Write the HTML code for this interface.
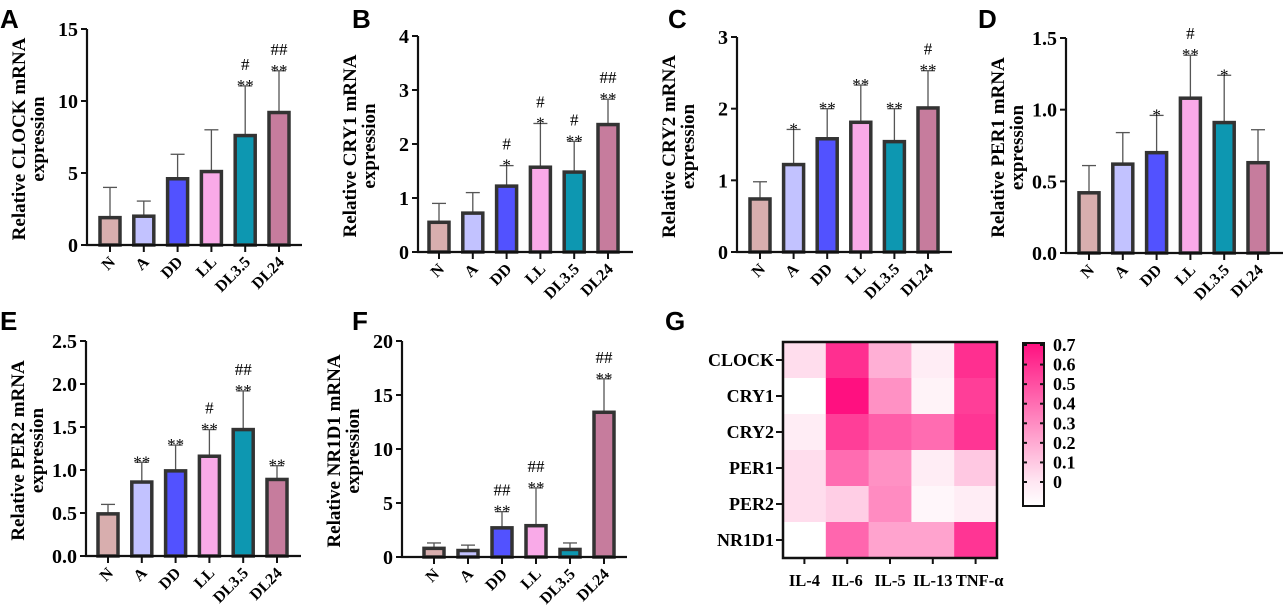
<!DOCTYPE html>
<html><head><meta charset="utf-8">
<style>
body{margin:0;background:#fff;}
svg{display:block;font-family:"Liberation Serif",serif;}
.pl{font-family:"Liberation Sans",sans-serif;font-weight:bold;font-size:26px;}
.tk{font-weight:bold;font-size:20px;}
.hk{font-weight:bold;font-size:18px;}
.hc{font-weight:bold;font-size:16.5px;}
.xl{font-weight:bold;font-size:16px;}
.yt{font-weight:bold;font-size:19px;}
.an{font-size:17px;}
</style></head><body>
<svg id="fig" width="1283" height="610"></svg>
<script>
const categories=["N","A","DD","LL","DL3.5","DL24"];
const barColors=["#d8aeae","#c2c2ff","#5252ff","#f9aae8","#0d97b1","#c67c9d"];
const clockMeans=[1.9,2.0,4.6,5.1,7.6,9.2];
const clockErr=[4.0,3.05,6.3,8.0,11.05,12.1];
const clockSig=["","","","",["#","**"],["##","**"]];
const clockTicks=["0","5","10","15"];
const cry1Means=[0.55,0.72,1.22,1.57,1.48,2.36];
const cry1Err=[0.9,1.1,1.6,2.38,2.05,2.83];
const cry1Sig=["","",["#","*"],["#","*"],["#","**"],["##","**"]];
const cry1Ticks=["0","1","2","3","4"];
const cry2Means=[0.74,1.22,1.58,1.81,1.54,2.01];
const cry2Err=[0.98,1.71,2.0,2.33,2.0,2.53];
const cry2Sig=["",["*"],["**"],["**"],["**"],["#","**"]];
const cry2Ticks=["0","1","2","3"];
const per1Means=[0.42,0.62,0.70,1.08,0.91,0.63];
const per1Err=[0.61,0.84,0.96,1.38,1.24,0.86];
const per1Sig=["","",["*"],["#","**"],["*"],""];
const per1Ticks=["0.0","0.5","1.0","1.5"];
const per2Means=[0.49,0.86,0.99,1.16,1.47,0.89];
const per2Err=[0.60,1.09,1.29,1.47,1.92,1.05];
const per2Sig=["",["**"],["**"],["#","**"],["##","**"],["**"]];
const per2Ticks=["0.0","0.5","1.0","1.5","2.0","2.5"];
const nr1d1Means=[0.8,0.6,2.7,2.9,0.7,13.4];
const nr1d1Err=[1.3,1.1,4.2,6.4,1.3,16.5];
const nr1d1Sig=["","",["##","**"],["##","**"],"",["##","**"]];
const nr1d1Ticks=["0","5","10","15","20"];
const heatRows=["CLOCK","CRY1","CRY2","PER1","PER2","NR1D1"];
const heatCols=["IL-4","IL-6","IL-5","IL-13","TNF-α"];
const heatClock=[0.03,0.6,0.18,-0.02,0.6];
const heatCry1=[-0.1,0.7,0.28,-0.04,0.55];
const heatCry2=[-0.02,0.55,0.45,0.4,0.58];
const heatPer1=[0.03,0.4,0.28,-0.02,0.1];
const heatPer2=[0.03,0.08,0.3,-0.05,-0.02];
const heatNr1d1=[-0.1,0.42,0.22,0.22,0.58];
const cbTicks=["0","0.1","0.2","0.3","0.4","0.5","0.6","0.7"];

const NS="http://www.w3.org/2000/svg";
const svg=document.getElementById('fig');
function mk(tag,attrs,parent,text){const e=document.createElementNS(NS,tag);for(const k in attrs)e.setAttribute(k,attrs[k]);if(text!==undefined)e.textContent=text;(parent||svg).appendChild(e);return e;}

function panel(letter,lx,ly,ax,top,bot,xend,c0,step,ticks,means,errs,sigs,gene){
  const g=mk('g',{});
  
  
  const L=mk('text',{x:lx,y:ly,class:'pl'},g,letter);
  
  
  const ymax=parseFloat(ticks[ticks.length-1]);
  const y=v=>bot-(v/ymax)*(bot-top);
  const x=i=>c0+i*step;
  ticks.forEach(t=>{const v=parseFloat(t);const yy=y(v);
    mk('line',{x1:ax-6,y1:yy,x2:ax,y2:yy,stroke:'#111','stroke-width':2},g);
    const tt=mk('text',{x:ax-9,y:yy+7,'text-anchor':'end',class:'tk'},g,t);
    
    
  });
  const cx=ax-62, cy=(top+bot)/2+2;
  const yt=mk('text',{transform:`translate(${cx},${cy}) rotate(-90)`,'text-anchor':'middle',class:'yt'},g,'Relative '+gene+' mRNA');
  
  
  const yt2=mk('text',{transform:`translate(${cx+19},${cy}) rotate(-90)`,'text-anchor':'middle',class:'yt'},g,'expression');
  
  
  categories.forEach((c,i)=>{
    const bx=x(i), bw=20;
    const eb=mk('g',{},g);
    
    
    mk('line',{x1:bx,y1:y(means[i]),x2:bx,y2:y(errs[i]),stroke:'#555','stroke-width':1.3},eb);
    mk('line',{x1:bx-7,y1:y(errs[i]),x2:bx+7,y2:y(errs[i]),stroke:'#555','stroke-width':1.3},eb);
    const r=mk('rect',{x:bx-bw/2,y:y(means[i]),width:bw,height:bot-y(means[i]),fill:barColors[i],stroke:'#333','stroke-width':3.5},g);
    
    
    const s=sigs[i];
    if(s){let yy=y(errs[i])-1;for(let k=s.length-1;k>=0;k--){
      const st=mk('text',{x:bx,y:yy+(s[k][0]=='*'?6:0),'text-anchor':'middle',class:'an'},g,s[k]);
      
      
      yy-=15;}}
    mk('line',{x1:bx,y1:bot,x2:bx,y2:bot+7,stroke:'#111','stroke-width':2},g);
    const xl=mk('text',{transform:`translate(${bx+6},${bot+18}) rotate(-45)`,'text-anchor':'end',class:'xl'},g,c);
    
    
  });
  const axl=mk('path',{d:`M${ax},${top} V${bot} H${xend}`,fill:'none',stroke:'#111','stroke-width':2.2},g);
  
  
}
panel('A',0,28,87,29,245,302,110,33.8,clockTicks,clockMeans,clockErr,clockSig,'CLOCK');
panel('B',352,28,418,36,252,633,439,33.8,cry1Ticks,cry1Means,cry1Err,cry1Sig,'CRY1');
panel('C',668,28,737,37,252,952,760,33.6,cry2Ticks,cry2Means,cry2Err,cry2Sig,'CRY2');
panel('D',978,28,1066,38,253,1283,1089,33.8,per1Ticks,per1Means,per1Err,per1Sig,'PER1');
panel('E',0,330,86,341,556,301,108,33.8,per2Ticks,per2Means,per2Err,per2Sig,'PER2');
panel('F',352,330,402,341,557,627,434,34,nr1d1Ticks,nr1d1Means,nr1d1Err,nr1d1Sig,'NR1D1');

const heatVals=[heatClock,heatCry1,heatCry2,heatPer1,heatPer2,heatNr1d1];
const hg=mk('g',{});


const GL=mk('text',{x:665,y:330,class:'pl'},hg,'G');


const hx0=783,hy0=342,cw=42.8,ch=36;
const vmin=-0.08,vmax=0.7;
function col(v){let t=Math.max(0,Math.min(1,(v-vmin)/(vmax-vmin)));
  const gg=Math.round(255-t*(255-16)),b=Math.round(255-t*(255-128));return `rgb(255,${gg},${b})`;}
heatVals.forEach((row,ri)=>{row.forEach((v,ci)=>{
  const c=mk('rect',{x:hx0+ci*cw,y:hy0+ri*ch,width:cw+0.5,height:ch+0.5,fill:col(v)},hg);
  
  
});
  const yy=hy0+ri*ch+ch/2;
  mk('line',{x1:776,y1:yy,x2:782,y2:yy,stroke:'#111','stroke-width':2},hg);
  const t=mk('text',{x:774,y:yy+6,'text-anchor':'end',class:'hk'},hg,heatRows[ri]);
  
  
});
heatCols.forEach((c,ci)=>{const xx=hx0+ci*cw+cw/2;
  mk('line',{x1:xx,y1:558,x2:xx,y2:564,stroke:'#111','stroke-width':2},hg);
  const t=mk('text',{x:xx+(ci==4?4:0),y:586,'text-anchor':'middle',class:'hc'},hg,c);
  
  
});
const hb=mk('rect',{x:hx0,y:hy0,width:cw*5,height:ch*6,fill:'none',stroke:'#111','stroke-width':2.5},hg);


const defs=mk('defs',{},hg);
const lg=mk('linearGradient',{id:'cbg',x1:0,y1:1,x2:0,y2:0},defs);
mk('stop',{offset:0,'stop-color':'#fff'},lg);
mk('stop',{offset:0.15,'stop-color':col(0)},lg);
mk('stop',{offset:1,'stop-color':col(vmax)},lg);
const cb=mk('rect',{x:1023,y:343,width:21,height:163,fill:'url(#cbg)',stroke:'#111','stroke-width':2},hg);


const cy=v=>482-(v/0.7)*(482-345);
cbTicks.forEach(t=>{const v=parseFloat(t),yy=cy(v);
  mk('line',{x1:1023,y1:yy,x2:1027,y2:yy,stroke:'#111','stroke-width':2},hg);
  mk('line',{x1:1040,y1:yy,x2:1044,y2:yy,stroke:'#111','stroke-width':2},hg);
  const tt=mk('text',{x:1053,y:yy+6,class:'hk'},hg,t);
  
  
});
</script>
</body></html>
